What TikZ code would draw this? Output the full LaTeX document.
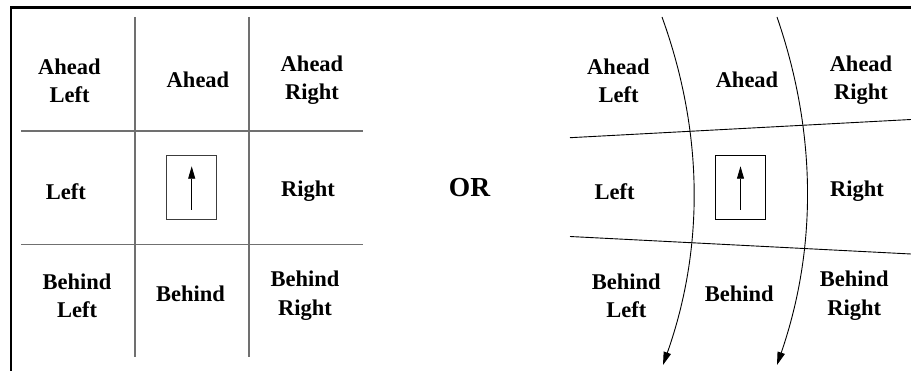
\documentclass[tikz,border=0pt]{standalone}
\usepackage{fontspec}
\setmainfont{Liberation Serif}
\usetikzlibrary{arrows.meta}

\definecolor{gridgray}{RGB}{112,112,112}
\definecolor{boxgray}{RGB}{60,60,60}

\tikzset{
  label/.style={align=center, inner sep=0pt, text depth=0pt,
    font=\fontsize{22.5}{28.3}\selectfont\bfseries},
  bigword/.style={inner sep=0pt, text depth=0pt,
    font=\fontsize{27.5}{33}\selectfont\bfseries},
  frameline/.style={line width=2.4pt, black},
  gridline/.style={line width=1.3pt, gridgray},
  warpline/.style={line width=0.9pt, black},
  carbox/.style={draw=boxgray, line width=1pt, minimum width=50pt,
    minimum height=63.3pt, inner sep=0pt},
  heading/.style={line width=0.9pt, black, -{Triangle[length=12.5pt,width=7pt]}},
  flow/.style={warpline, -{Triangle[length=13pt,width=7.5pt]}}
}

\begin{document}
\begin{tikzpicture}[x=1pt, y=-1pt]
  \useasboundingbox (0,0) rectangle (911,371);

  % outer frame (top and left edges)
  \draw[frameline] (11,371) -- (11,7.7) -- (911,7.7);

  % ---------- regular grid ----------
  \draw[gridline] (135,17) -- (135,357);
  \draw[gridline] (249,17) -- (249,357);
  \draw[gridline] (21,131) -- (363,131);
  \draw[gridline] (21,244.3) -- (363,244.3);

  \node[carbox] (lcar) at (191.7,187.4) {};
  \draw[heading] ([yshift=10pt]lcar.south) -- ([yshift=-11pt]lcar.north);

  \node[label] (lal) at (69.5,81)    {Ahead\\Left};
  \node[label] (la)  at (198,79.2)   {Ahead};
  \node[label] (lar) at (312,77.5)   {Ahead\\Right};
  \node[label] (ll)  at (65.8,191.7) {Left};
  \node[label] (lr)  at (308,188.3)  {Right};
  \node[label] (lbl) at (77,296)     {Behind\\Left};
  \node[label] (lb)  at (190.5,293.3){Behind};
  \node[label] (lbr) at (305,293.3)  {Behind\\Right};

  \node[bigword] (or) at (469.5,187.5) {OR};

  % ---------- warped grid ----------
  \draw[flow] (662,17) .. controls (704,133) and (704,249) .. (663,365);
  \draw[flow] (777,17) .. controls (817,133) and (817,249) .. (777,365);
  \draw[warpline] (570,137.7) -- (911,119.5);
  \draw[warpline] (570,236.5) -- (911,254);

  \node[carbox, draw=black] (rcar) at (740.5,187.4) {};
  \draw[heading] ([yshift=10pt]rcar.south) -- ([yshift=-11pt]rcar.north);

  \node[label] (ral) at (618.5,81)    {Ahead\\Left};
  \node[label] (ra)  at (747,79.2)    {Ahead};
  \node[label] (rar) at (861,77.5)    {Ahead\\Right};
  \node[label] (rl)  at (614.7,191.7) {Left};
  \node[label] (rr)  at (857,188.3)   {Right};
  \node[label] (rbl) at (626.3,296)   {Behind\\Left};
  \node[label] (rb)  at (739.2,293.3) {Behind};
  \node[label] (rbr) at (854.2,293.3) {Behind\\Right};
\end{tikzpicture}
\end{document}
